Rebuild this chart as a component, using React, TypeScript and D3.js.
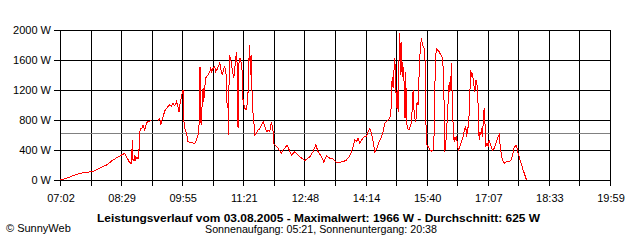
import React from "react";
import * as d3 from "d3";

// minute of day (decimal) for each sample, and power in W (null = gap)
const minutes: number[] = [
  422.0, 431.0, 440.4, 449.8, 459.3, 466.4, 471.0, 478.1, 487.6, 496.9,
  506.4, 513.4, 515.8, 520.5, 522.9, 524.3, 525.2, 526.6, 527.6, 529.0,
  530.8, 532.2, 533.6, 534.6, 536.0, 537.5, 539.3, 541.7, 544.1, 546.4,
  551.2, 556.0, 560.5, 562.9, 564.3, 565.7, 567.6, 570.0, 572.4, 574.6,
  577.0, 579.4, 581.7, 584.1, 586.5, 588.3, 590.2, 591.9, 593.6, 595.0,
  595.8, 597.2, 598.2, 600.6, 602.9, 607.7, 612.4, 614.8, 617.0, 618.4,
  619.4, 619.8, 620.8, 621.8, 623.2, 624.1, 625.1, 626.5, 627.5, 628.9,
  631.2, 633.6, 635.0, 636.4, 638.2, 640.6, 642.0, 644.2, 646.7, 647.7,
  649.1, 651.5, 653.3, 654.8, 656.2, 657.2, 658.0, 659.4, 660.4, 660.8,
  661.8, 663.2, 664.2, 665.6, 667.5, 668.9, 671.3, 672.7, 673.5, 675.0,
  676.0, 677.4, 678.4, 679.8, 680.6, 682.0, 683.0, 684.9, 686.3, 687.7,
  688.7, 689.7, 691.1, 691.9, 692.9, 693.9, 694.7, 696.2, 697.2, 699.6,
  701.8, 704.2, 706.6, 708.9, 711.3, 713.7, 716.0, 718.4, 720.8, 723.0,
  724.0, 725.4, 727.8, 730.1, 734.9, 737.1, 739.6, 742.8, 744.5, 749.0,
  753.7, 758.3, 760.7, 765.4, 767.8, 774.9, 779.5, 783.4, 786.6, 791.4,
  794.7, 798.5, 803.1, 807.4, 810.2, 812.6, 817.3, 821.9, 826.7, 831.4,
  833.8, 836.1, 838.5, 840.9, 843.1, 845.5, 847.9, 850.2, 852.6, 855.0,
  857.3, 859.7, 862.1, 864.3, 866.7, 869.1, 871.4, 873.8, 876.2, 878.5,
  880.9, 883.3, 885.5, 887.9, 889.3, 890.3, 891.2, 892.6, 893.6, 895.0,
  896.0, 897.4, 898.2, 899.7, 900.6, 902.1, 903.1, 903.9, 904.5, 904.9,
  905.9, 906.7, 907.7, 908.7, 909.6, 910.5, 911.5, 913.0, 915.2, 917.2,
  918.6, 920.0, 920.9, 921.9, 923.3, 924.7, 925.7, 926.5, 927.9, 929.3,
  930.3, 931.3, 932.7, 933.6, 935.0, 936.4, 937.4, 938.4, 939.2, 940.2,
  942.1, 944.5, 946.9, 949.1, 950.5, 951.5, 952.5, 953.9, 955.3, 957.6,
  960.0, 962.4, 963.3, 964.7, 965.7, 967.1, 968.1, 969.5, 970.9, 971.7,
  972.7, 973.7, 975.1, 976.0, 977.4, 978.8, 979.8, 980.8, 982.2, 983.6,
  985.0, 986.9, 989.3, 991.5, 993.9, 995.3, 996.3, 998.6, 1000.0, 1001.0,
  1002.4, 1003.4, 1004.8, 1006.6, 1008.1, 1009.5, 1010.9, 1011.9, 1013.3, 1014.1,
  1015.1, 1016.5, 1018.0, 1018.9, 1019.8, 1021.2, 1022.2, 1023.6, 1025.4, 1026.9,
  1028.3, 1030.2, 1033.1, 1035.3, 1038.7, 1041.0, 1042.4, 1043.4, 1045.8, 1048.0,
  1050.5, 1052.9, 1056.1, 1058.9, 1061.3, 1063.2, 1064.6, 1066.0, 1067.8, 1069.2,
  1070.7, 1072.6, 1074.1, 1076.3, 1078.7, 1081.1,
];

const watts: (number | null)[] = [
  0, 22, 57, 89, 102, 111, 124, 156, 200, 267,
  320, 356, 311, 231, 222, 533, 260, 250, 333, 267,
  311, 280, 400, 644, 689, 680, 733, 667, 756, 778,
  791, null, 791, 822, 733, 780, 844, 920, 956, 978,
  1000, 980, 1022, 990, 1044, 990, 911, 1040, 1111, 1178,
  1200, 778, 689, 622, 511, 498, 489, 533, 600, 733,
  1178, 1511, 778, 733, 1133, 1222, 1044, 1222, 1356, 1378,
  1400, 1444, 1489, 1440, 1489, 1511, 1444, 1480, 1533, 1578,
  1480, 1400, 1480, 1511, 1444, 1356, 1000, 956, 600, 1311,
  1644, 1622, 1533, 1467, 1356, 1489, 1711, 1467, 689, 1622,
  1560, 1622, 1489, 1444, 1044, 1000, 956, 940, 1000, 1178,
  1533, 1800, 1400, 1667, 1267, 1044, 889, 733, 600, 622,
  667, 680, 733, 778, 711, 644, 660, 644, 778, 644,
  489, 467, 444, 422, 356, 400, 422, 467, 430, 333,
  378, 333, 311, 276, 258, 311, 378, 467, 378, 311,
  236, 324, 289, 280, 258, 236, 236, 244, 267, 320,
  378, 444, 533, 511, 556, 489, 533, 560, 587, 578,
  644, 689, 622, 511, 378, 409, 467, 533, 578, 644,
  756, 778, 800, 822, 889, 1044, 1378, 1222, 1422, 1622,
  1356, 956, 1200, 911, 1489, 1956, 1400, 1667, 1844, 1444,
  1578, 1333, 1511, 867, 822, 1444, 778, 689, 667, 733,
  760, 1044, 1200, 956, 822, 778, 911, 1044, 1000, 1400,
  1622, 1800, 1889, 1822, 1778, 1756, 1644, 1489, 578, 467,
  444, 400, 387, 400, 600, 1178, 1622, 1764, 1733, 1711,
  1667, 1622, 1489, 1000, 378, 533, 556, 1000, 1022, 1311,
  1178, 1222, 1556, 1111, 733, 511, 578, 550, 587, 444,
  400, 444, 511, 578, 689, 711, 578, 711, 867, 1156,
  1467, 1378, 1422, 1267, 1178, 1333, 1300, 1178, 844, 533,
  644, 600, 689, 578, 756, 956, 800, 444, 489, 444,
  533, 467, 400, 422, 511, 578, 600, 489, 311, 244,
  222, 244, 250, 258, 333, 422, 444, 467, 422, 356,
  311, 244, 200, 133, 67, 0,
];

const timeTickLabels = ["07:02", "08:29", "09:55", "11:21", "12:48", "14:14", "15:40", "17:07", "18:33", "19:59"];
const powerTicks = [0, 400, 800, 1200, 1600, 2000];
const averageWatt = 625;
const startMinute = 422;
const endMinute = 1199;

const title = "Leistungsverlauf vom 03.08.2005 - Maximalwert: 1966 W - Durchschnitt: 625 W";
const subtitle = "Sonnenaufgang: 05:21, Sonnenuntergang: 20:38";
const credit = "© SunnyWeb";

export default function App() {
  const W = 640, H = 240;
  const x = d3.scaleLinear().domain([startMinute, endMinute]).range([60, 610]);
  const y = d3.scaleLinear().domain([0, 2000]).range([180, 30]);
  const font = "'Liberation Sans', Arial, sans-serif";

  const gridCount = (timeTickLabels.length - 1) * 2;
  const gridMinutes = d3.range(gridCount + 1).map((i) => startMinute + (i * (endMinute - startMinute)) / gridCount);

  const pts = minutes.map((m, i) => ({ m, w: watts[i] }));
  const line = d3
    .line<{ m: number; w: number | null }>()
    .defined((d) => d.w !== null)
    .x((d) => x(d.m))
    .y((d) => y(d.w as number));

  const px = (v: number) => Math.round(v) + 0.5;

  return (
    <svg
      width={W}
      height={H}
      style={{ position: "absolute", left: 0, top: 0, display: "block", background: "#fff" }}
    >
      <rect x={0} y={0} width={W} height={H} fill="#fff" />
      {/* horizontal grid */}
      {powerTicks.map((t) => (
        <line key={"h" + t} x1={54} x2={611} y1={px(y(t))} y2={px(y(t))} stroke="#000" strokeWidth={1} shapeRendering="crispEdges" />
      ))}
      {/* vertical grid */}
      {gridMinutes.map((m, i) => (
        <line key={"v" + i} x1={px(x(m))} x2={px(x(m))} y1={30} y2={186} stroke="#000" strokeWidth={1} shapeRendering="crispEdges" />
      ))}
      {/* average */}
      <line x1={61} x2={610} y1={px(y(averageWatt))} y2={px(y(averageWatt))} stroke="#808080" strokeWidth={1} shapeRendering="crispEdges" />
      {/* data */}
      <path d={line(pts) || ""} fill="none" stroke="#ff0000" strokeWidth={1} shapeRendering="crispEdges" />
      {/* y labels */}
      {powerTicks.map((t) => (
        <text key={"yl" + t} x={51} y={y(t) + 4} textAnchor="end" fontFamily={font} fontSize={11} fill="#000">
          {t} W
        </text>
      ))}
      {/* x labels */}
      {timeTickLabels.map((lab, i) => (
        <text key={"xl" + i} x={x(gridMinutes[i * 2]) + 1} y={202} textAnchor="middle" fontFamily={font} fontSize={11} fill="#000">
          {lab}
        </text>
      ))}
      <text x={97} y={222} fontFamily={font} fontSize={11} fontWeight="bold" fill="#000" textLength={443} lengthAdjust="spacingAndGlyphs">
        {title}
      </text>
      <text x={205} y={233} fontFamily={font} fontSize={11} fill="#000" textLength={232} lengthAdjust="spacingAndGlyphs">
        {subtitle}
      </text>
      <text x={6} y={232} fontFamily={font} fontSize={11} fill="#000">
        {credit}
      </text>
    </svg>
  );
}
